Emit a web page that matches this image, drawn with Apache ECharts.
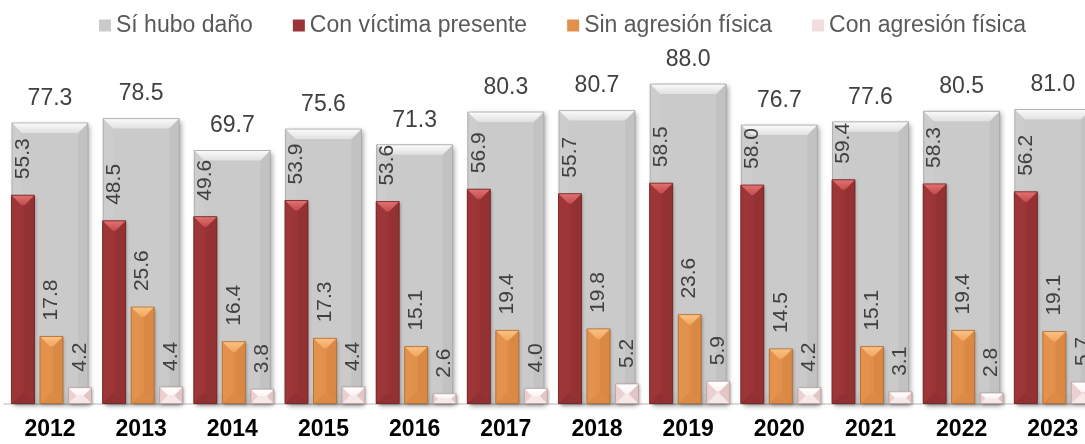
<!DOCTYPE html>
<html>
<head>
<meta charset="utf-8">
<script src="https://cdn.jsdelivr.net/npm/echarts@6/dist/echarts.min.js"></script>
<style>
html,body{margin:0;padding:0;background:#fff;overflow:hidden;}
#chart{width:1100px;height:444px;}
</style>
</head>
<body>
<div id="chart"></div>
<script>
const years = ['2012','2013','2014','2015','2016','2017','2018','2019','2020','2021','2022','2023'];
const siHuboDano = [77.3,78.5,69.7,75.6,71.3,80.3,80.7,88.0,76.7,77.6,80.5,81.0];
const conVictima = [55.3,48.5,49.6,53.9,53.6,56.9,55.7,58.5,58.0,59.4,58.3,56.2];
const sinAgresion = [17.8,25.6,16.4,17.3,15.1,19.4,19.8,23.6,14.5,15.1,19.4,19.1];
const conAgresion = [4.2,4.4,3.8,4.4,2.6,4.0,5.2,5.9,4.2,3.1,2.8,5.7];
const seriesNames = ['Sí hubo daño','Con víctima presente','Sin agresión física','Con agresión física'];

const FONT = '"Liberation Sans", Arial, Helvetica, sans-serif';
const GREY_W = 76, BW = 23, GAP = 5.5, BEVEL = 10;
const STEP = BW + GAP;

const styles = {
  grey:  {front:'#cacaca', top:['#fbfbfb','#e0e0e0'], left:'#cdcdcd', right:'#c2c2c2', bottom:'#c4c4c4', edge:'#a3a3a3'},
  red:   {front:'#9b3436', top:['#e27272','#c44c4d'], left:'#9d3638', right:'#943133', bottom:'#913032', edge:'#72211f'},
  orange:{front:'#e0904b', top:['#fcc286','#f0a660'], left:'#e2924d', right:'#d98944', bottom:'#db8b46', edge:'#b06a2c'},
  pink:  {front:'#f1dddd', top:['#ffffff','#fbf4f4'], left:'#ead0d0', right:'#e2c5c5', bottom:'#f6e8e8', edge:'#b89a9a'}
};

function bevelRenderer(st, offset, width) {
  return function (params, api) {
    const i = api.value(0), v = api.value(1);
    const t = api.coord([i, v]);
    const b = api.coord([i, 0]);
    const cx = t[0] + offset;
    const x0 = cx - width / 2, x1 = cx + width / 2;
    const y0 = t[1], y1 = b[1];
    const h = y1 - y0;
    const bv = Math.max(0, Math.min(BEVEL, width / 2, h / 2));
    const poly = (pts, fill) => ({type:'polygon', shape:{points:pts}, style:{fill:fill}, silent:true});
    return {
      type:'group',
      children:[
        poly([[x0,y1],[x1,y1],[x1-bv,y1-bv],[x0+bv,y1-bv]], st.bottom),
        poly([[x0,y0],[x0+bv,y0+bv],[x0+bv,y1-bv],[x0,y1]], st.left),
        poly([[x1,y0],[x1-bv,y0+bv],[x1-bv,y1-bv],[x1,y1]], st.right),
        poly([[x0,y0],[x1,y0],[x1-bv,y0+bv],[x0+bv,y0+bv]],
          new echarts.graphic.LinearGradient(0,0,0,1,[{offset:0,color:st.top[0]},{offset:1,color:st.top[1]}])),
        {type:'rect', shape:{x:x0, y:y0, width:width, height:h},
         style:{fill:null, stroke:st.edge, lineWidth:0.8}, silent:true}
      ]
    };
  };
}

function pairs(arr){ return arr.map((v,i)=>[i,v]); }

const chart = echarts.init(document.getElementById('chart'), null, {renderer:'canvas'});

const gridTop = 64.5, gridBottom = 40.5, gridLeft = 4.4, gridWidth = 1094;

const rotLabel = {
  show:true, position:'top', rotate:90, align:'left', verticalAlign:'middle',
  distance:16, fontSize:21, color:'#404040', fontFamily:FONT,
  formatter:(p)=>Number(p.value).toFixed(1)
};

function coloredBar(name, data, st) {
  return {
    name:name, type:'bar', xAxisIndex:1, yAxisIndex:0, data:data,
    barWidth:BW, barGap:(GAP/BW*100)+'%', z:3,
    itemStyle:{color:st.front, shadowColor:'rgba(0,0,0,0.3)', shadowBlur:3, shadowOffsetX:1.5, shadowOffsetY:1.5},
    label:rotLabel
  };
}

function bevelSeries(name, data, st, offset, width, xi, yi, z) {
  return {
    name:name, type:'custom', xAxisIndex:xi, yAxisIndex:yi, z:z, silent:true,
    data:pairs(data), renderItem:bevelRenderer(st, offset, width),
    encode:{x:0, y:1}, clip:false
  };
}

const option = {
  animation:false,
  backgroundColor:'#ffffff',
  legend:{
    data:seriesNames, top:9, left:94, itemGap:40, itemWidth:12, itemHeight:12,
    icon:'rect',
    textStyle:{fontSize:23, color:'#595959', fontFamily:FONT}
  },
  grid:[
    {left:gridLeft, width:gridWidth, top:gridTop, bottom:gridBottom},
    {left:gridLeft+1.5, width:gridWidth, top:gridTop, bottom:gridBottom}
  ],
  xAxis:[
    {type:'category', gridIndex:0, data:years,
     axisTick:{show:false},
     axisLine:{show:true, lineStyle:{color:'#d9d9d9', width:2}},
     axisLabel:{fontSize:23, fontWeight:'bold', color:'#000000', fontFamily:FONT, margin:15}},
    {type:'category', gridIndex:1, data:years, show:false}
  ],
  yAxis:[
    {type:'value', gridIndex:1, min:0, max:90, show:false, splitLine:{show:false}},
    {type:'value', gridIndex:0, min:0, max:93.4, show:false, splitLine:{show:false}}
  ],
  series:[
    {
      name:seriesNames[0], type:'bar', xAxisIndex:0, yAxisIndex:1, data:siHuboDano,
      barWidth:GREY_W, z:1,
      itemStyle:{color:styles.grey.front, shadowColor:'rgba(0,0,0,0.35)', shadowBlur:5, shadowOffsetX:2.5, shadowOffsetY:2},
      label:{show:true, position:'top', distance:13, fontSize:23, color:'#404040', fontFamily:FONT,
             formatter:(p)=>Number(p.value).toFixed(1)}
    },
    bevelSeries('bevel0', siHuboDano, styles.grey, 0, GREY_W, 0, 1, 2),
    coloredBar(seriesNames[1], conVictima, styles.red),
    coloredBar(seriesNames[2], sinAgresion, styles.orange),
    coloredBar(seriesNames[3], conAgresion, styles.pink),
    bevelSeries('bevel1', conVictima, styles.red, -STEP, BW, 1, 0, 4),
    bevelSeries('bevel2', sinAgresion, styles.orange, 0, BW, 1, 0, 4),
    bevelSeries('bevel3', conAgresion, styles.pink, STEP, BW, 1, 0, 4)
  ]
};
chart.setOption(option);
</script>
</body>
</html>
